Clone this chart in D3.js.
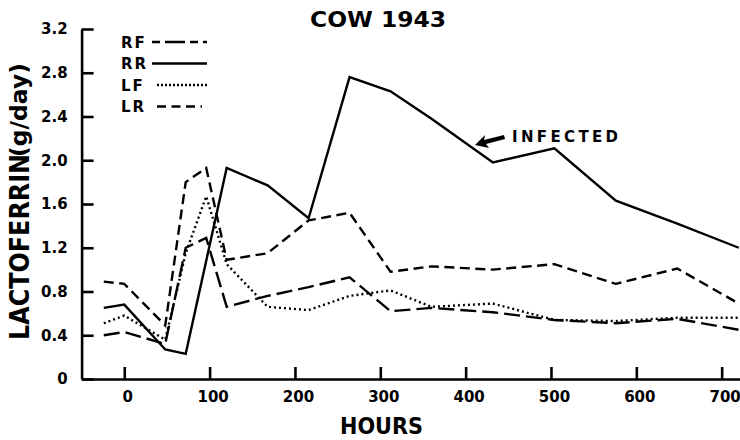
<!DOCTYPE html>
<meta charset="utf-8">
<title>cow 1943 - lactoferrin</title>
<style>
body {
  margin: 0px;
  background: #fff;
}
svg {
  font-family: "DejaVu Sans", sans-serif;
  font-weight: bold;
}
.axis path, .axis line {
  stroke: #000;
  stroke-width: 2.6;
}
.axis text {
  font-family: "DejaVu Sans", sans-serif;
  font-weight: bold;
  font-size: 15px;
  fill: #000;
}
path.series {
  fill: none;
  stroke: #000;
  stroke-width: 2.4;
  stroke-linejoin: miter;
}
line.key {
  stroke: #000;
  stroke-width: 2.4;
}
</style>

<script src="https://d3js.org/d3.v7.min.js"></script>

<body>
<script>
var width = 740, height = 440;

// sampling times (hours) and lactoferrin output per quarter (g/day)
var hours = [-24, 0, 48, 72, 96, 120, 168, 216, 264, 312, 360, 432, 504, 576, 648, 720];
var RF = [0.40, 0.43, 0.32, 1.20, 1.29, 0.66, 0.76, 0.84, 0.93, 0.62, 0.65, 0.61, 0.54, 0.51, 0.55, 0.45];
var RR = [0.65, 0.68, 0.27, 0.23, null, 1.93, 1.77, 1.47, 2.76, 2.63, 2.38, 1.98, 2.11, 1.63, 1.42, 1.20];
var LF = [0.51, 0.58, 0.36, 1.15, 1.67, 1.05, 0.66, 0.63, 0.76, 0.81, 0.66, 0.69, 0.54, 0.53, 0.56, 0.56];
var LR = [0.89, 0.87, 0.49, 1.80, 1.93, 1.09, 1.15, 1.45, 1.52, 0.98, 1.03, 1.00, 1.05, 0.87, 1.01, 0.69];

var names = ["RF", "RR", "LF", "LR"];
var xTicks = [0, 100, 200, 300, 400, 500, 600, 700];
var yTicks = [0, 0.4, 0.8, 1.2, 1.6, 2.0, 2.4, 2.8, 3.2];
var yTickLabels = ["0", "0.4", "0.8", "1.2", "1.6", "2.0", "2.4", "2.8", "3.2"];
var infected = [411, 2.14];  // arrow tip, in hours / g per day

var series = {RF: RF, RR: RR, LF: LF, LR: LR};
var dashes = {RF: "16,6", RR: null, LF: "2,3", LR: "10,5.5"};
var keyDashes = {RF: "8,5,20,5", RR: null, LF: "2,2", LR: "9,5.5"};

var svg = d3.select("body").append("svg")
    .attr("width", width)
    .attr("height", height);

var x = d3.scaleLinear().domain([-50, 721.5]).range([81.6, 740]);
var y = d3.scaleLinear().domain([0, 3.2]).range([379, 29]);

svg.append("g")
    .attr("class", "axis")
    .attr("transform", "translate(0," + y(0) + ")")
    .call(d3.axisBottom(x).tickValues(xTicks).tickSizeInner(-12).tickSizeOuter(0).tickPadding(12))
    .selectAll("text").attr("font-size", 16).attr("dx", 3);

svg.append("g")
    .attr("class", "axis")
    .attr("transform", "translate(" + x(-50) + ",0)")
    .call(d3.axisLeft(y).tickValues(yTicks).tickSizeInner(-12).tickSizeOuter(0).tickPadding(14)
      .tickFormat(function(d, i) { return yTickLabels[i]; }))
    .selectAll("text").attr("font-size", 16);

// the lines
var line = d3.line()
    .x(function(d) { return x(d[0]); })
    .y(function(d) { return y(d[1]); });

names.forEach(function(n) {
  var pts = hours.map(function(h, i) { return [h, series[n][i]]; })
      .filter(function(d) { return d[1] != null; });
  svg.append("path")
      .attr("class", "series")
      .attr("d", line(pts))
      .attr("stroke-dasharray", dashes[n]);
});

// legend
var key = svg.append("g");
names.forEach(function(n, i) {
  var ky = 42 + i * 21.5;
  key.append("text")
      .attr("x", 121)
      .attr("y", ky + 5.5)
      .attr("font-size", 15)
      .attr("letter-spacing", 2)
      .text(n);
  key.append("line")
      .attr("class", "key")
      .attr("x1", n == "RF" || n == "RR" ? 152 : 157)
      .attr("x2", n == "LR" ? 202 : 207)
      .attr("y1", ky).attr("y2", ky)
      .attr("stroke-dasharray", keyDashes[n]);
});

// titles
svg.append("text")
    .attr("x", 310).attr("y", 27)
    .attr("font-size", 22)
    .attr("textLength", 136).attr("lengthAdjust", "spacingAndGlyphs")
    .text("COW  1943");

svg.append("text")
    .attr("x", 340).attr("y", 434)
    .attr("font-size", 23)
    .attr("textLength", 83).attr("lengthAdjust", "spacingAndGlyphs")
    .text("HOURS");

svg.append("text")
    .attr("transform", "translate(29,340) rotate(-90)")
    .attr("font-size", 27)
    .attr("textLength", 186).attr("lengthAdjust", "spacingAndGlyphs")
    .text("LACTOFERRIN");
svg.append("text")
    .attr("transform", "translate(27,157) rotate(-90)")
    .attr("font-size", 23)
    .attr("textLength", 94).attr("lengthAdjust", "spacingAndGlyphs")
    .text("(g/day)");

// infected annotation
var tx = x(infected[0]), ty = y(infected[1]);
svg.append("path")
    .attr("d", "M" + tx + "," + ty + "L" + (tx + 10) + "," + (ty - 10) + "L" + (tx + 9) + "," + (ty - 5)
      + "L" + (tx + 29) + "," + (ty - 10) + "L" + (tx + 30) + "," + (ty - 6)
      + "L" + (tx + 11) + "," + (ty - 1) + "L" + (tx + 14) + "," + (ty + 3) + "Z")
    .attr("fill", "#000");
svg.append("text")
    .attr("x", tx + 37).attr("y", ty - 3)
    .attr("font-size", 15)
    .attr("textLength", 106).attr("lengthAdjust", "spacing")
    .text("INFECTED");
</script>
